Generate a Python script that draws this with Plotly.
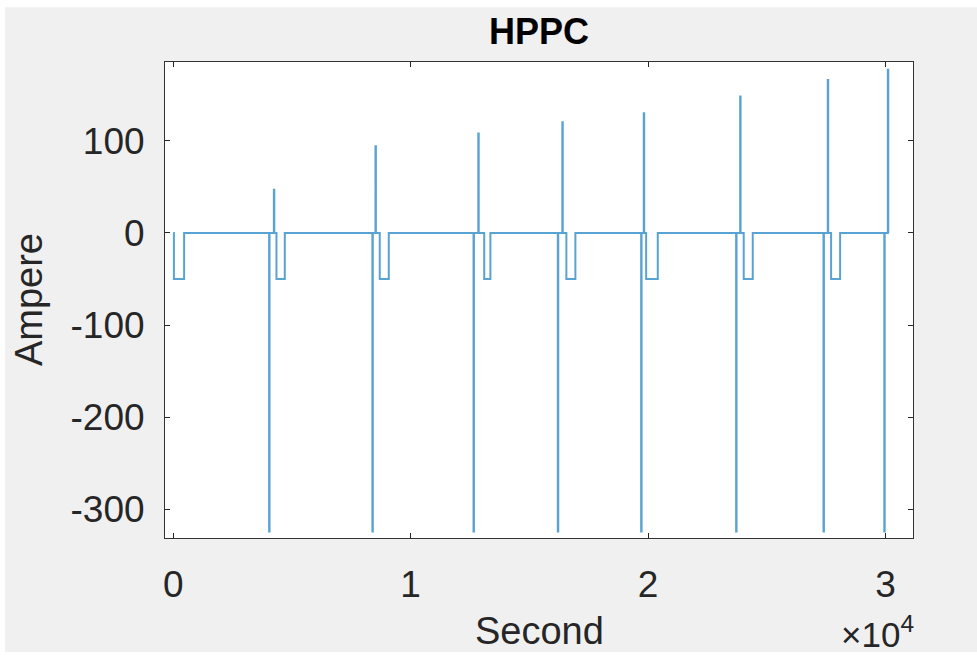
import plotly.graph_objects as go

# ---- data (seconds, amperes) ----
neg_times = [4040, 8390, 12650, 16200, 19710, 23710, 27390, 29950]
neg_peaks = [-324, -324, -324, -324, -324, -324, -324, -324]
spike_times = [4240, 8520, 12850, 16390, 19820, 23880, 27570, 30100]
spike_peaks = [47, 94, 108, 120, 130, 148, 166, 177]
dip_starts = [30, 4350, 8700, 13100, 16560, 19920, 24030, 27710]
dip_ends = [460, 4700, 9080, 13360, 16940, 20410, 24410, 28090]
dip_levels = [-50, -50, -50, -50, -50, -50, -50, -50]
pulse_duration = 18
x_tick_vals = [0, 10000, 20000, 30000]
x_tick_text = ["0", "1", "2", "3"]
y_tick_vals = [100, 0, -100, -200, -300]
y_tick_text = ["100", "0", "-100", "-200", "-300"]

# ---- build the step signal ----
segments = []
for t, v in zip(neg_times, neg_peaks):
    segments.append((t, t + pulse_duration, v))
for t, v in zip(spike_times, spike_peaks):
    segments.append((t, t + pulse_duration, v))
for a, b, v in zip(dip_starts, dip_ends, dip_levels):
    segments.append((a, b, v))
segments.sort()

xs, ys = [0], [0]
for a, b, v in segments:
    xs += [a, a, b, b]
    ys += [0, v, v, 0]

FONT = "Liberation Sans, Arial, sans-serif"
fig = go.Figure()
fig.add_trace(go.Scatter(x=xs, y=ys, mode="lines",
                         line=dict(color="rgba(0,114,189,0.65)", width=2),
                         showlegend=False, hoverinfo="skip"))

axis_common = dict(showline=True, linecolor="#333333", linewidth=1,
                   mirror="ticks", ticks="inside", ticklen=5, tickcolor="#262626",
                   showgrid=False, zeroline=False,
                   tickfont=dict(family=FONT, size=37, color="#262626"))

fig.update_xaxes(range=[-345, 31160], tickvals=x_tick_vals, ticktext=x_tick_text,
                 ticklabelstandoff=14, **axis_common)
fig.update_yaxes(range=[-331, 185.5], tickvals=y_tick_vals, ticktext=y_tick_text,
                 ticklabelstandoff=12, **axis_common)

fig.update_layout(
    width=977, height=656,
    margin=dict(l=165, r=64, t=62, b=118),
    paper_bgcolor="#f0f0f0", plot_bgcolor="white",
    shapes=[
        dict(type="rect", xref="paper", yref="paper", x0=-0.3, x1=1.2,
             y0=(538 - 7) / 476.3, y1=1.3, fillcolor="white", line_width=0, layer="below"),
        dict(type="rect", xref="paper", yref="paper", x0=-0.3, x1=(5 - 165) / 748.3,
             y0=-0.3, y1=1.3, fillcolor="white", line_width=0, layer="below"),
        dict(type="rect", xref="paper", yref="paper", x0=-0.3, x1=1.2,
             y0=-0.3, y1=(538 - 652) / 476.3, fillcolor="white", line_width=0, layer="below"),
    ],
    annotations=[
        dict(text="<b>HPPC</b>", xref="paper", yref="paper", x=0.5, y=(538 - 31) / 476.3,
             showarrow=False, xanchor="center", yanchor="middle",
             font=dict(family=FONT, size=36, color="black")),
        dict(text="Second", xref="paper", yref="paper", x=0.5, y=(538 - 631) / 476.3,
             showarrow=False, xanchor="center", yanchor="middle",
             font=dict(family=FONT, size=38, color="#262626")),
        dict(text="Ampere", xref="paper", yref="paper", x=(29 - 165) / 748.3, y=0.5,
             showarrow=False, xanchor="center", yanchor="middle", textangle=-90,
             font=dict(family=FONT, size=38, color="#262626")),
        dict(text="×10<sup>4</sup>", xref="paper", yref="paper", x=(916 - 165) / 748.3,
             y=(538 - 632) / 476.3, showarrow=False, xanchor="right", yanchor="middle",
             font=dict(family=FONT, size=35, color="#262626")),
    ],
)

fig.write_html("out.html")
